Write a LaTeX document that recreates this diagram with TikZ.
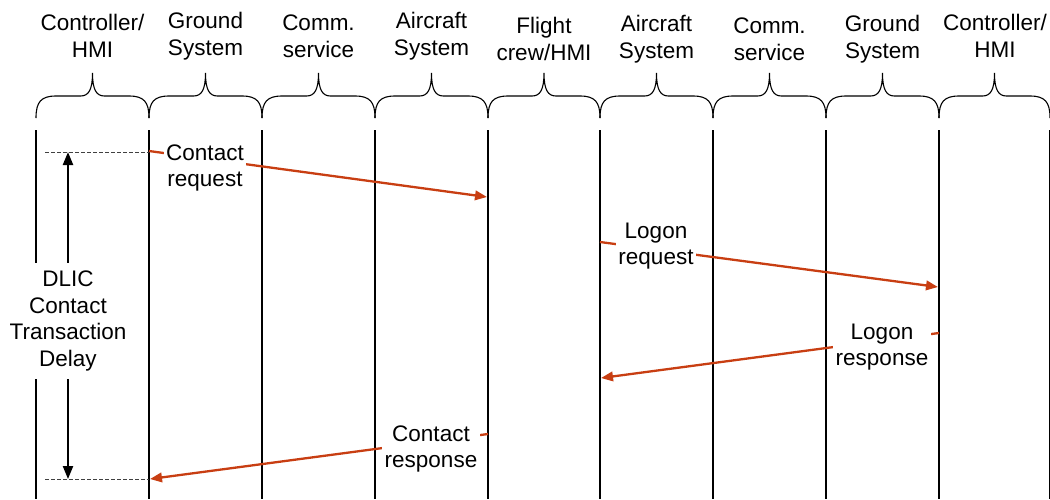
\documentclass[tikz,border=0pt]{standalone}
\usepackage{fontspec}
\setmainfont{Liberation Sans}
\usetikzlibrary{arrows.meta}
\definecolor{msgred}{RGB}{200,62,18}
\begin{document}
\begin{tikzpicture}[x=1pt,y=-1pt,
  life/.style={line width=2.7pt,black},
  bracestyle/.style={line width=1.1pt,black},
  msg/.style={line width=2.3pt,msgred,-{Triangle[length=12pt,width=9.5pt]}},
  guide/.style={line width=0.8pt,black!75,dash pattern=on 3.5pt off 2.5pt},
  delay/.style={line width=2.2pt,black,{Triangle[length=13pt,width=10pt]}-{Triangle[length=13pt,width=10pt]}},
  hdr/.style={align=center,font=\fontsize{22.5}{26.8}\selectfont,inner sep=0pt},
  lbl/.style={align=center,font=\fontsize{22.5}{26.8}\selectfont,fill=white,inner sep=2.5pt}]
\useasboundingbox (0,0) rectangle (1050,499);
% lifelines
\foreach \x/\n in {36/A,149/B,262/C,375/D,488/E,600/F,713/G,826/H,939/I,1050/J} {
  \coordinate (top\n) at (\x,130);
  \coordinate (bot\n) at (\x,499);
  \draw[life] (top\n) -- (bot\n);
}
% braces
\foreach \a/\b in {36/149,149/262,262/375,375/488,488/600,600/713,713/826,826/939,939/1050} {
  \pgfmathsetmacro\m{(\a+\b)/2}
  \draw[bracestyle] (\a,118) .. controls (\a,102) and (\a+5,96) .. (\a+20,96)
    -- (\m-12,96) .. controls (\m-4,96) and (\m,90) .. (\m,73)
    .. controls (\m,90) and (\m+4,96) .. (\m+12,96)
    -- (\b-20,96) .. controls (\b-5,96) and (\b,102) .. (\b,118);
}
% headers
\node[hdr] (h1) at (92.5,36) {Controller/\\HMI};
\node[hdr] (h2) at (205.5,36) {Ground\\System};
\node[hdr] (h3) at (318.5,36) {Comm.\\service};
\node[hdr] (h4) at (431.5,36) {Aircraft\\System};
\node[hdr] (h5) at (544,39) {Flight\\crew/HMI};
\node[hdr] (h6) at (656.5,39) {Aircraft\\System};
\node[hdr] (h7) at (769.5,39) {Comm.\\service};
\node[hdr] (h8) at (882.5,39) {Ground\\System};
\node[hdr] (h9) at (995,36) {Controller/\\HMI};
% message end points
\coordinate (m1s) at (149,151);
\coordinate (m1e) at (487,197);
\coordinate (m2s) at (600,242);
\coordinate (m2e) at (938,287);
\coordinate (m3s) at (939,333);
\coordinate (m3e) at (601,378);
\coordinate (m4s) at (488,434);
\coordinate (m4e) at (150,479);
% guide lines
\coordinate (g1a) at (45,152);
\coordinate (g1b) at (149,152);
\coordinate (g2a) at (45,479);
\coordinate (g2b) at (149,479);
\draw[guide] (g1a) -- (g1b);
\draw[guide] (g2a) -- (g2b);
% delay arrow
\coordinate (d1) at (68,152);
\coordinate (d2) at (68,479);
\draw[delay] (d1) -- (d2);
\node[lbl,inner sep=8pt] (dlic) at (68,321) {DLIC\\Contact\\Transaction\\Delay};
% messages
\draw[msg] (m1s) -- (m1e);
\draw[msg] (m2s) -- (m2e);
\draw[msg] (m3s) -- (m3e);
\draw[msg] (m4s) -- (m4e);
\node[lbl] (l1) at (205,168) {Contact\\request};
\node[lbl] (l2) at (656,246) {Logon\\request};
\node[lbl] (l3) at (882,347) {Logon\\response};
\node[lbl] (l4) at (431,449) {Contact\\response};
\end{tikzpicture}
\end{document}
